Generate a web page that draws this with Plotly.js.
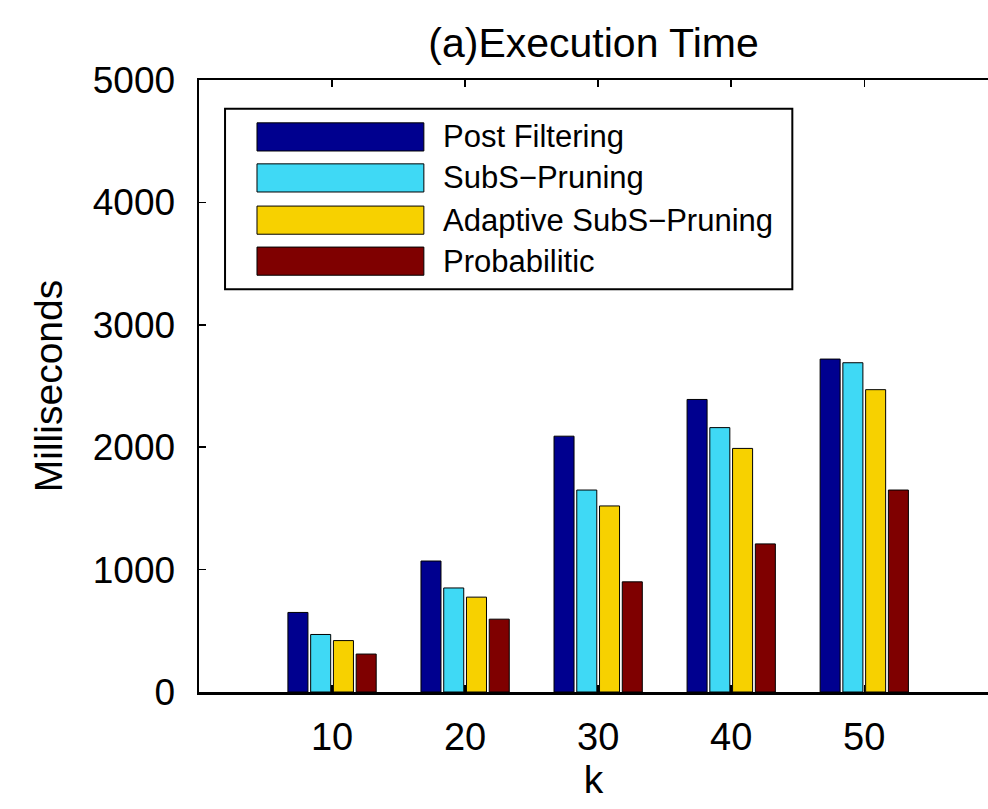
<!DOCTYPE html>
<html>
<head>
<meta charset="utf-8">
<script src="https://cdn.plot.ly/plotly-3.0.1.min.js"></script>
<style>html,body{margin:0;padding:0;overflow:hidden;background:#fff}</style>
</head>
<body>
<div id="chart" style="width:988px;height:809px"></div>
<script>
const kValues = [10, 20, 30, 40, 50];
const seriesNames = ["Post Filtering", "SubS\u2212Pruning", "Adaptive SubS\u2212Pruning", "Probabilitic"];
const postFiltering = [650, 1070, 2090, 2390, 2720];
const subsPruning = [470, 850, 1650, 2160, 2690];
const adaptiveSubsPruning = [420, 775, 1520, 1990, 2470];
const probabilistic = [310, 595, 900, 1210, 1650];
const yTicks = [0, 1000, 2000, 3000, 4000, 5000];
const colors = ["#00008F", "#3FD9F5", "#F7D100", "#7F0000"];

const seriesValues = [postFiltering, subsPruning, adaptiveSubsPruning, probabilistic];
const font = "Liberation Sans, Arial, Helvetica, sans-serif";

const traces = seriesValues.map((vals, i) => ({
  type: "bar",
  x: kValues,
  y: vals,
  name: seriesNames[i],
  marker: {color: colors[i], line: {color: "#000", width: 1}},
  showlegend: false,
  hoverinfo: "x+y+name"
}));

// custom MATLAB-style legend (large swatches) in paper coords
const shapes = [{
  type: "rect", xref: "paper", yref: "paper",
  x0: 0.033, x1: 0.752, y0: 0.658, y1: 0.953,
  line: {color: "#000", width: 2}, fillcolor: "#fff", layer: "above"
}];
const annotations = [];
const rowY = [0.907, 0.840, 0.771, 0.704];
seriesNames.forEach((name, i) => {
  shapes.push({
    type: "rect", xref: "paper", yref: "paper",
    x0: 0.0735, x1: 0.285, y0: rowY[i] - 0.023, y1: rowY[i] + 0.023,
    line: {color: "#000", width: 1}, fillcolor: colors[i], layer: "above"
  });
  annotations.push({
    xref: "paper", yref: "paper", x: 0.307, y: rowY[i],
    xanchor: "left", yanchor: "middle", showarrow: false,
    text: name, font: {family: font, size: 31, color: "#000"}
  });
});

const layout = {
  width: 988, height: 809,
  margin: {l: 199, r: 0, t: 80, b: 117},
  paper_bgcolor: "#fff", plot_bgcolor: "#fff",
  font: {family: font, color: "#000"},
  title: {
    text: "(a)Execution Time",
    font: {family: font, size: 41, color: "#000"},
    x: 0.5, xref: "paper", y: 1 - 43/809, yref: "container", yanchor: "middle"
  },
  bargap: 0.316,
  bargroupgap: 0.12,
  barmode: "group",
  xaxis: {
    range: [0, 59.3],
    tickvals: kValues,
    ticktext: kValues.map(String),
    ticks: "inside", ticklen: 7, tickwidth: 1.5, tickcolor: "#000",
    showline: true, linecolor: "#000", linewidth: 2.5, mirror: "ticks",
    showgrid: false, zeroline: false,
    tickfont: {family: font, size: 38, color: "#000"},
    ticklabelstandoff: 10,
    title: {text: "k", font: {family: font, size: 39, color: "#000"}, standoff: 4}
  },
  yaxis: {
    range: [0, 5000],
    tickvals: yTicks,
    ticks: "inside", ticklen: 7, tickwidth: 1.5, tickcolor: "#000",
    showline: true, linecolor: "#000", linewidth: 2.5, mirror: false,
    showgrid: false, zeroline: false,
    tickfont: {family: font, size: 37, color: "#000"},
    ticklabelstandoff: 14,
    title: {text: "Milliseconds", font: {family: font, size: 39, color: "#000"}, standoff: 18}
  },
  shapes: shapes,
  annotations: annotations
};

Plotly.newPlot("chart", traces, layout, {displayModeBar: false, staticPlot: true});
</script>
</body>
</html>
